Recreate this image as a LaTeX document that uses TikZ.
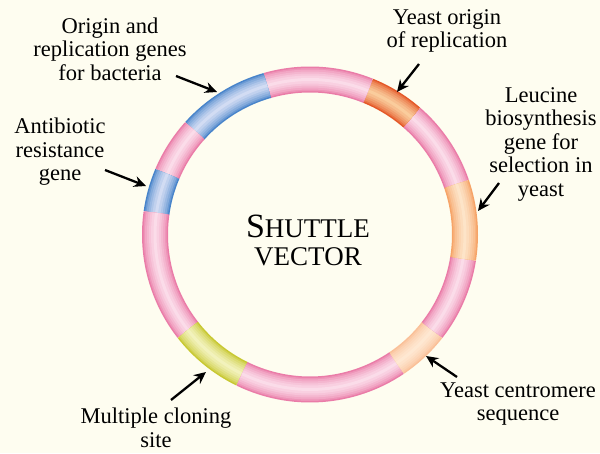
\documentclass[tikz,border=0pt]{standalone}
\usepackage{fontspec}
\setmainfont{Liberation Serif}
\usetikzlibrary{arrows.meta}
\definecolor{paper}{RGB}{254,253,240}
\definecolor{pinkE}{RGB}{234,124,168}
\definecolor{pinkC}{RGB}{251,220,233}
\definecolor{blueE}{RGB}{72,132,202}
\definecolor{blueC}{RGB}{210,220,243}
\definecolor{redE}{RGB}{228,88,40}
\definecolor{redC}{RGB}{250,204,156}
\definecolor{leuE}{RGB}{246,164,104}
\definecolor{leuC}{RGB}{253,228,200}
\definecolor{cenE}{RGB}{250,192,152}
\definecolor{cenC}{RGB}{254,232,210}
\definecolor{mcsE}{RGB}{200,200,50}
\definecolor{mcsC}{RGB}{242,242,188}
\tikzset{
	lbl/.style={align=center,inner sep=0pt,font=\fontsize{22.5}{23.5}\selectfont},
	pointer/.style={line width=2.3pt,-{Stealth[length=12pt,width=11pt]}}
}
% one piece of the ring: start angle, end angle, edge colour, centre colour
\newcommand{\ringpart}[4]{%
	\foreach \w/\m in {26/0,23/25,20/45,16/60,12/75,8/88,3/100}
	\draw[line width=\w pt,color=#4!\m!#3] (C) ++(#1:155pt) arc[start angle=#1,end angle=#2,radius=155pt];
}
\begin{document}
\begin{tikzpicture}[x=1pt,y=1pt]
	\fill[paper] (0,0) rectangle (600,453);
	\useasboundingbox (0,0) rectangle (600,453);
	\coordinate (C) at (310,218.5);
	% ring
	\ringpart{19}{49}{pinkE}{pinkC}
	\ringpart{49}{68}{redE}{redC}
	\ringpart{68}{106}{pinkE}{pinkC}
	\ringpart{106}{138}{blueE}{blueC}
	\ringpart{138}{157}{pinkE}{pinkC}
	\ringpart{157}{172}{blueE}{blueC}
	\ringpart{172}{218}{pinkE}{pinkC}
	\ringpart{218}{244}{mcsE}{mcsC}
	\ringpart{244}{304}{pinkE}{pinkC}
	\ringpart{304}{322}{cenE}{cenC}
	\ringpart{322}{351}{pinkE}{pinkC}
	\ringpart{351}{379}{leuE}{leuC}
	% texts
	\node[align=center,font=\fontsize{27}{28}\selectfont] (title) at (308,213) {{\fontsize{34}{28}\selectfont S}HUTTLE\\VECTOR};
	\node[lbl] (bac) at (110,404) {Origin and\\replication genes\\for bacteria};
	\node[lbl] (yori) at (447,422) {Yeast origin\\of replication};
	\node[lbl] (leu) at (541,309) {Leucine\\biosynthesis\\gene for\\selection in\\yeast};
	\node[lbl] (anti) at (60,301) {Antibiotic\\resistance\\gene};
	\node[lbl] (cen) at (518,49) {Yeast centromere\\sequence};
	\node[lbl] (mcs) at (156,25) {Multiple cloning\\site};
	% arrows
	\coordinate (bac-t) at (176,377); \coordinate (bac-h) at (217,361);
	\coordinate (yori-t) at (419,389); \coordinate (yori-h) at (397,361);
	\coordinate (leu-t) at (499,270); \coordinate (leu-h) at (478,242);
	\coordinate (anti-t) at (105,283); \coordinate (anti-h) at (146,267);
	\coordinate (cen-t) at (457,76); \coordinate (cen-h) at (426,97);
	\coordinate (mcs-t) at (171,53); \coordinate (mcs-h) at (206,81);
	\foreach \p in {bac,yori,leu,anti,cen,mcs}
	\draw[pointer] (\p-t) -- (\p-h);
\end{tikzpicture}
\end{document}
